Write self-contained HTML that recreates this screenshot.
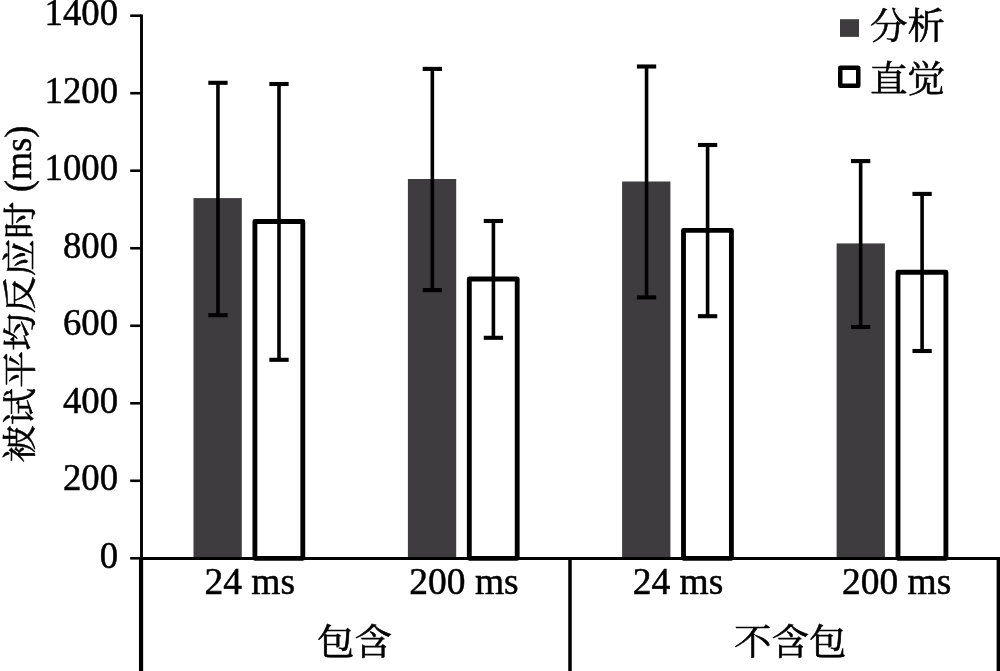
<!DOCTYPE html>
<html lang="zh-CN">
<head>
<meta charset="utf-8">
<title>被试平均反应时</title>
<style>
html,body{margin:0;padding:0;background:#fff;}
body{width:1000px;height:671px;overflow:hidden;}
svg{display:block;}
text{font-family:"Liberation Serif","Noto Serif CJK SC",serif;fill:#000;stroke:#000;stroke-width:0.5px;}
.cjk{font-family:"Liberation Serif","Noto Serif CJK SC",serif;stroke-width:0.6px;}
</style>
</head>
<body>
<svg width="1000" height="671" viewBox="0 0 1000 671">
<rect x="0" y="0" width="1000" height="671" fill="#ffffff"/>

<rect x="193.50" y="198.10" width="48.3" height="360.20" fill="#3f3c3f"/>
<rect x="254.90" y="221.50" width="47.9" height="336.80" fill="#fff" stroke="#000" stroke-width="4.85" stroke-linejoin="round"/>
<rect x="407.90" y="179.00" width="48.3" height="379.30" fill="#3f3c3f"/>
<rect x="469.30" y="279.00" width="47.9" height="279.30" fill="#fff" stroke="#000" stroke-width="4.85" stroke-linejoin="round"/>
<rect x="622.10" y="181.50" width="48.3" height="376.80" fill="#3f3c3f"/>
<rect x="683.50" y="230.40" width="47.9" height="327.90" fill="#fff" stroke="#000" stroke-width="4.85" stroke-linejoin="round"/>
<rect x="836.60" y="243.40" width="48.3" height="314.90" fill="#3f3c3f"/>
<rect x="898.00" y="272.20" width="47.9" height="286.10" fill="#fff" stroke="#000" stroke-width="4.85" stroke-linejoin="round"/>
<line x1="141.5" y1="14.40" x2="141.5" y2="558.3" stroke="#000" stroke-width="2.9"/>
<line x1="141.05" y1="556.90" x2="141.05" y2="671" stroke="#000" stroke-width="4.2"/>
<line x1="140" y1="558.4499999999999" x2="1000" y2="558.4499999999999" stroke="#000" stroke-width="3"/>
<line x1="130.2" y1="15.70" x2="141.5" y2="15.70" stroke="#000" stroke-width="2.6"/>
<line x1="130.2" y1="93.21" x2="141.5" y2="93.21" stroke="#000" stroke-width="2.6"/>
<line x1="130.2" y1="170.73" x2="141.5" y2="170.73" stroke="#000" stroke-width="2.6"/>
<line x1="130.2" y1="248.24" x2="141.5" y2="248.24" stroke="#000" stroke-width="2.6"/>
<line x1="130.2" y1="325.76" x2="141.5" y2="325.76" stroke="#000" stroke-width="2.6"/>
<line x1="130.2" y1="403.27" x2="141.5" y2="403.27" stroke="#000" stroke-width="2.6"/>
<line x1="130.2" y1="480.79" x2="141.5" y2="480.79" stroke="#000" stroke-width="2.6"/>
<line x1="130.2" y1="558.30" x2="141.5" y2="558.30" stroke="#000" stroke-width="2.6"/>
<line x1="570" y1="558.3" x2="570" y2="671" stroke="#000" stroke-width="3.5"/>
<line x1="998.3" y1="558.3" x2="998.3" y2="671" stroke="#000" stroke-width="3.4"/>
<line x1="217.95" y1="82.80" x2="217.95" y2="315.20" stroke="#000" stroke-width="3.6"/>
<line x1="208.30" y1="82.80" x2="227.60" y2="82.80" stroke="#000" stroke-width="4.1"/>
<line x1="208.30" y1="315.20" x2="227.60" y2="315.20" stroke="#000" stroke-width="4.1"/>
<line x1="279.00" y1="84.00" x2="279.00" y2="359.80" stroke="#000" stroke-width="3.6"/>
<line x1="269.35" y1="84.00" x2="288.65" y2="84.00" stroke="#000" stroke-width="4.1"/>
<line x1="269.35" y1="359.80" x2="288.65" y2="359.80" stroke="#000" stroke-width="4.1"/>
<line x1="432.35" y1="68.90" x2="432.35" y2="290.10" stroke="#000" stroke-width="3.6"/>
<line x1="422.70" y1="68.90" x2="442.00" y2="68.90" stroke="#000" stroke-width="4.1"/>
<line x1="422.70" y1="290.10" x2="442.00" y2="290.10" stroke="#000" stroke-width="4.1"/>
<line x1="493.40" y1="221.00" x2="493.40" y2="337.80" stroke="#000" stroke-width="3.6"/>
<line x1="483.75" y1="221.00" x2="503.05" y2="221.00" stroke="#000" stroke-width="4.1"/>
<line x1="483.75" y1="337.80" x2="503.05" y2="337.80" stroke="#000" stroke-width="4.1"/>
<line x1="646.55" y1="66.50" x2="646.55" y2="297.40" stroke="#000" stroke-width="3.6"/>
<line x1="636.90" y1="66.50" x2="656.20" y2="66.50" stroke="#000" stroke-width="4.1"/>
<line x1="636.90" y1="297.40" x2="656.20" y2="297.40" stroke="#000" stroke-width="4.1"/>
<line x1="707.60" y1="145.00" x2="707.60" y2="316.20" stroke="#000" stroke-width="3.6"/>
<line x1="697.95" y1="145.00" x2="717.25" y2="145.00" stroke="#000" stroke-width="4.1"/>
<line x1="697.95" y1="316.20" x2="717.25" y2="316.20" stroke="#000" stroke-width="4.1"/>
<line x1="860.65" y1="161.10" x2="860.65" y2="327.00" stroke="#000" stroke-width="3.6"/>
<line x1="851.00" y1="161.10" x2="870.30" y2="161.10" stroke="#000" stroke-width="4.1"/>
<line x1="851.00" y1="327.00" x2="870.30" y2="327.00" stroke="#000" stroke-width="4.1"/>
<line x1="922.10" y1="193.90" x2="922.10" y2="351.00" stroke="#000" stroke-width="3.6"/>
<line x1="912.45" y1="193.90" x2="931.75" y2="193.90" stroke="#000" stroke-width="4.1"/>
<line x1="912.45" y1="351.00" x2="931.75" y2="351.00" stroke="#000" stroke-width="4.1"/>
<text transform="translate(118.10,25.30) scale(0.98,1.025)" font-size="37.5" text-anchor="end" class="lat">1400</text>
<text transform="translate(118.10,102.81) scale(0.98,1.025)" font-size="37.5" text-anchor="end" class="lat">1200</text>
<text transform="translate(118.10,180.33) scale(0.98,1.025)" font-size="37.5" text-anchor="end" class="lat">1000</text>
<text transform="translate(118.10,257.84) scale(0.98,1.025)" font-size="37.5" text-anchor="end" class="lat">800</text>
<text transform="translate(118.10,335.36) scale(0.98,1.025)" font-size="37.5" text-anchor="end" class="lat">600</text>
<text transform="translate(118.10,412.87) scale(0.98,1.025)" font-size="37.5" text-anchor="end" class="lat">400</text>
<text transform="translate(118.10,490.39) scale(0.98,1.025)" font-size="37.5" text-anchor="end" class="lat">200</text>
<text transform="translate(118.10,567.90) scale(0.98,1.025)" font-size="37.5" text-anchor="end" class="lat">0</text>
<text transform="translate(249.80,593.90) scale(1,1.025)" font-size="37.5" text-anchor="middle" class="lat">24 ms</text>
<text transform="translate(464.00,593.90) scale(1,1.025)" font-size="37.5" text-anchor="middle" class="lat">200 ms</text>
<text transform="translate(678.00,593.90) scale(1,1.025)" font-size="37.5" text-anchor="middle" class="lat">24 ms</text>
<text transform="translate(896.60,593.90) scale(1,1.025)" font-size="37.5" text-anchor="middle" class="lat">200 ms</text>
<text transform="translate(354.50,654.80) scale(1,0.96)" font-size="37.5" text-anchor="middle" class="cjk">包含</text>
<text transform="translate(790.30,654.80) scale(1,0.96)" font-size="37.5" text-anchor="middle" class="cjk">不含包</text>
<text transform="translate(31.80,462.40) rotate(-90) scale(0.994,0.905)" font-size="37.5" text-anchor="start" class="cjk">被试平均反应时</text>
<text transform="translate(31.20,191.90) rotate(-90) scale(0.962,0.985)" font-size="37.5" text-anchor="start" class="lat">(ms)</text>
<rect x="840" y="19.2" width="19" height="17.7" fill="#3f3c3f"/>
<rect x="840.25" y="67.85" width="18" height="18" fill="#fff" stroke="#000" stroke-width="4.5" stroke-linejoin="round"/>
<text transform="translate(870.00,39.10) scale(1,0.985)" font-size="37.5" text-anchor="start" class="cjk">分析</text>
<text transform="translate(870.00,91.90) scale(1,0.985)" font-size="37.5" text-anchor="start" class="cjk">直觉</text>
</svg>
</body>
</html>
